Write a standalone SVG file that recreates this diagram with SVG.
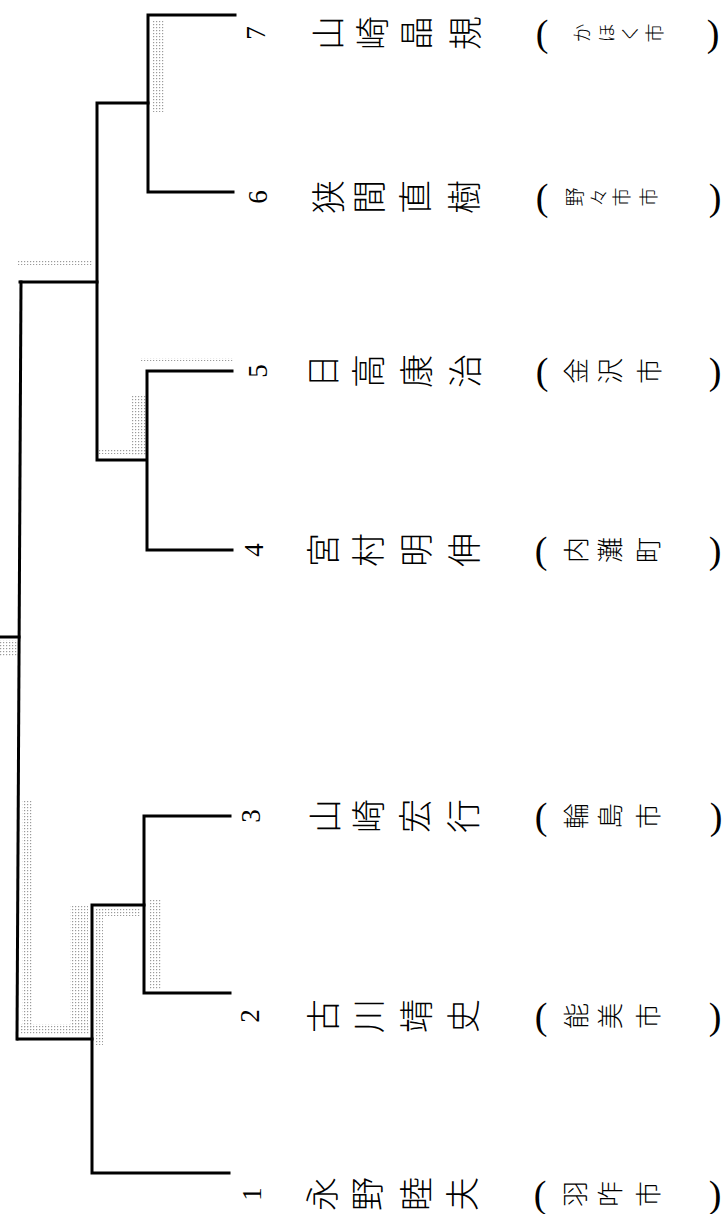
<svg xmlns="http://www.w3.org/2000/svg" width="722" height="1214" viewBox="0 0 722 1214">
<style>
.ln{fill:none;stroke:#000;stroke-width:3;stroke-linecap:square}
.nm{font-family:"Noto Sans CJK JP",sans-serif;font-size:34px;font-weight:300;fill:#000;text-anchor:middle;dominant-baseline:central}
.ct{font-size:26px}
.cs{font-size:19px}
.no{font-family:"Liberation Serif",serif;font-size:27px;fill:#000;text-anchor:middle;dominant-baseline:central}
.pr{font-family:"Liberation Serif",serif;font-size:38px;fill:#000;text-anchor:middle;dominant-baseline:central}
.st{fill:url(#dots)}
</style>
<defs>
<pattern id="dots" width="3" height="3" patternUnits="userSpaceOnUse">
<rect width="1.2" height="1.2" fill="#9a9a9a"/>
</pattern>
</defs>
<rect width="722" height="1214" fill="#fff"/>
<g id="stipple">
<rect class="st" x="152" y="20" width="12" height="92"/>
<rect class="st" x="18" y="261" width="74" height="4"/>
<rect class="st" x="140" y="358" width="93" height="3"/>
<rect class="st" x="132" y="395" width="14" height="60"/>
<rect class="st" x="98" y="449" width="48" height="5"/>
<rect class="st" x="22" y="800" width="10" height="230"/>
<rect class="st" x="20" y="1024" width="70" height="10"/>
<rect class="st" x="70" y="905" width="18" height="125"/>
<rect class="st" x="95" y="910" width="8" height="135"/>
<rect class="st" x="95" y="908" width="45" height="8"/>
<rect class="st" x="150" y="900" width="11" height="90"/>
<rect class="st" x="0" y="640" width="17" height="16"/>
</g>
<g id="connectors">
<path class="ln" d="M235,15 H148 V192 H233"/>
<path class="ln" d="M148,103 H97 V460 H146"/>
<path class="ln" d="M232,371 H147 V550 H232"/>
<path class="ln" d="M97,282 H20"/>
<path class="ln" d="M230,816 H144 V993 H230"/>
<path class="ln" d="M144,905 H92 V1173 H229"/>
<path class="ln" d="M92,1039 H18"/>
<path class="ln" d="M21,282 L17,1039"/>
<path class="ln" d="M0,637 H19"/>
</g>
<g id="p7" transform="translate(0,33)">
<text class="no" transform="translate(256,0) rotate(-90)">7</text>
<text class="nm" transform="translate(326,0) rotate(-90)">山</text>
<text class="nm" transform="translate(370,0) rotate(-90)">崎</text>
<text class="nm" transform="translate(414,0) rotate(-90)">晶</text>
<text class="nm" transform="translate(463,0) rotate(-90)">規</text>
<text class="pr" x="542">(</text>
<text class="nm cs" transform="translate(580,0) rotate(-90)">か</text>
<text class="nm cs" transform="translate(605,0) rotate(-90)">ほ</text>
<text class="nm cs" transform="translate(628,0) rotate(-90)">く</text>
<text class="nm cs" transform="translate(653,0) rotate(-90)">市</text>
<text class="pr" x="713">)</text>
</g>
<g id="p6" transform="translate(0,197)">
<text class="no" transform="translate(258,0) rotate(-90)">6</text>
<text class="nm" transform="translate(326,0) rotate(-90)">狭</text>
<text class="nm" transform="translate(367,0) rotate(-90)">間</text>
<text class="nm" transform="translate(413,0) rotate(-90)">直</text>
<text class="nm" transform="translate(462,0) rotate(-90)">樹</text>
<text class="pr" x="542">(</text>
<text class="nm cs" transform="translate(573,0) rotate(-90)">野</text>
<text class="nm cs" transform="translate(597,0) rotate(-90)">々</text>
<text class="nm cs" transform="translate(620,0) rotate(-90)">市</text>
<text class="nm cs" transform="translate(647,0) rotate(-90)">市</text>
<text class="pr" x="715">)</text>
</g>
<g id="p5" transform="translate(0,371)">
<text class="no" transform="translate(258,0) rotate(-90)">5</text>
<text class="nm" transform="translate(321,0) rotate(-90)">日</text>
<text class="nm" transform="translate(366,0) rotate(-90)">高</text>
<text class="nm" transform="translate(414,0) rotate(-90)">康</text>
<text class="nm" transform="translate(463,0) rotate(-90)">治</text>
<text class="pr" x="542">(</text>
<text class="nm ct" transform="translate(574,0) rotate(-90)">金</text>
<text class="nm ct" transform="translate(608,0) rotate(-90)">沢</text>
<text class="nm ct" transform="translate(647,0) rotate(-90)">市</text>
<text class="pr" x="715">)</text>
</g>
<g id="p4" transform="translate(0,550)">
<text class="no" transform="translate(254,0) rotate(-90)">4</text>
<text class="nm" transform="translate(321,0) rotate(-90)">宮</text>
<text class="nm" transform="translate(366,0) rotate(-90)">村</text>
<text class="nm" transform="translate(414,0) rotate(-90)">明</text>
<text class="nm" transform="translate(462,0) rotate(-90)">伸</text>
<text class="pr" x="541">(</text>
<text class="nm ct" transform="translate(574,0) rotate(-90)">内</text>
<text class="nm ct" transform="translate(608,0) rotate(-90)">灘</text>
<text class="nm ct" transform="translate(646,0) rotate(-90)">町</text>
<text class="pr" x="715">)</text>
</g>
<g id="p3" transform="translate(0,816)">
<text class="no" transform="translate(251,0) rotate(-90)">3</text>
<text class="nm" transform="translate(323,0) rotate(-90)">山</text>
<text class="nm" transform="translate(366,0) rotate(-90)">崎</text>
<text class="nm" transform="translate(413,0) rotate(-90)">宏</text>
<text class="nm" transform="translate(461,0) rotate(-90)">行</text>
<text class="pr" x="541">(</text>
<text class="nm ct" transform="translate(574,0) rotate(-90)">輪</text>
<text class="nm ct" transform="translate(608,0) rotate(-90)">島</text>
<text class="nm ct" transform="translate(646,0) rotate(-90)">市</text>
<text class="pr" x="716">)</text>
</g>
<g id="p2" transform="translate(0,1016)">
<text class="no" transform="translate(250,0) rotate(-90)">2</text>
<text class="nm" transform="translate(321,0) rotate(-90)">古</text>
<text class="nm" transform="translate(366,0) rotate(-90)">川</text>
<text class="nm" transform="translate(414,0) rotate(-90)">靖</text>
<text class="nm" transform="translate(461,0) rotate(-90)">史</text>
<text class="pr" x="541">(</text>
<text class="nm ct" transform="translate(574,0) rotate(-90)">能</text>
<text class="nm ct" transform="translate(608,0) rotate(-90)">美</text>
<text class="nm ct" transform="translate(646,0) rotate(-90)">市</text>
<text class="pr" x="715">)</text>
</g>
<g id="p1" transform="translate(0,1194)">
<text class="no" transform="translate(252,0) rotate(-90)">1</text>
<text class="nm" transform="translate(320,0) rotate(-90)">永</text>
<text class="nm" transform="translate(365,0) rotate(-90)">野</text>
<text class="nm" transform="translate(414,0) rotate(-90)">睦</text>
<text class="nm" transform="translate(460,0) rotate(-90)">夫</text>
<text class="pr" x="540">(</text>
<text class="nm ct" transform="translate(573,0) rotate(-90)">羽</text>
<text class="nm ct" transform="translate(608,0) rotate(-90)">咋</text>
<text class="nm ct" transform="translate(646,0) rotate(-90)">市</text>
<text class="pr" x="715">)</text>
</g>
</svg>
